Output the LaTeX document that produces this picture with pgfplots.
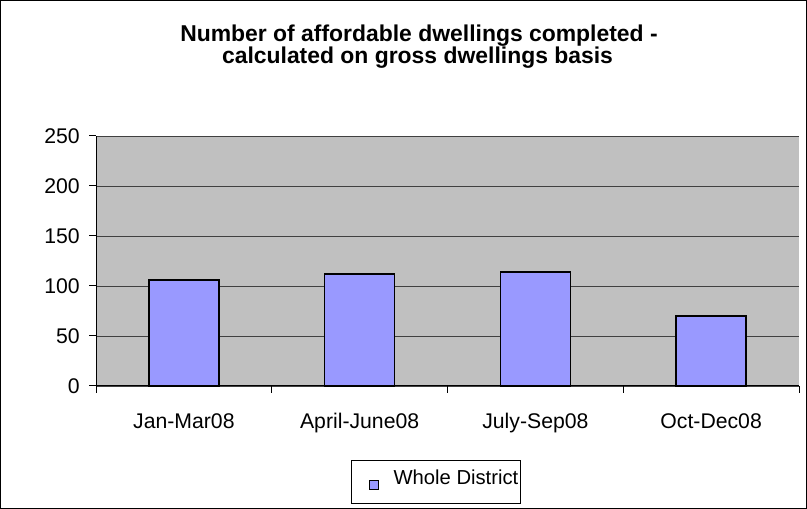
\documentclass[border=0pt]{standalone}
\usepackage{pgfplots}
\pgfplotsset{compat=1.18}
\usepackage{fontspec}
\setmainfont{Liberation Sans}
\definecolor{barblue}{HTML}{9999FF}
\definecolor{plotgray}{HTML}{C0C0C0}
\begin{document}
\begin{tikzpicture}[x=1bp,y=1bp]
\useasboundingbox (0,0) rectangle (807,509);
\draw[black, line width=1bp] (0.5,0.5) rectangle (806.5,508.5);
\node[anchor=base, inner sep=0, font=\fontsize{23}{27}\selectfont\bfseries] at (419,467) {Number of affordable dwellings completed -};
\node[anchor=base, inner sep=0, font=\fontsize{23}{27}\selectfont\bfseries] at (417.5,445) {calculated on gross dwellings basis};
\begin{axis}[
  at={(96bp,123bp)}, anchor=south west,
  scale only axis, width=703bp, height=250bp,
  xmin=-0.5, xmax=3.5, ymin=0, ymax=250,
  axis x line*=bottom, axis y line*=left,
  axis line style={black, line width=1bp},
  axis background/.style={fill=plotgray},
  xtick={0,1,2,3},
  xticklabels={Jan-Mar08,April-June08,July-Sep08,Oct-Dec08},
  minor xtick={-0.5,0.5,1.5,2.5,3.5},
  ytick={0,50,100,150,200,250},
  tick align=outside,
  major tick length=7bp, minor tick length=7bp,
  major x tick style={draw=none},
  minor x tick style={black, line width=1bp},
  major y tick style={black, line width=1bp},
  ymajorgrids,
  grid style={black!75, line width=0.9bp},
  tick label style={font=\fontsize{21.3}{25}\selectfont},
  /pgf/number format/assume math mode=true,
  xticklabel style={anchor=base, inner sep=0, yshift=-36bp},
  yticklabel style={anchor=east, inner sep=0, xshift=-9bp},
  legend style={at={(axis description cs:0.4836,-0.386)}, anchor=center,
    draw=black, line width=1bp, font=\fontsize{20.3}{24}\selectfont,
    inner xsep=2bp, inner ysep=0bp, nodes={inner xsep=0bp, inner ysep=0bp}},
  legend image code/.code={
    \path[draw=none, fill=none] (0bp,-26.5bp) rectangle (40bp,16.5bp);
    \path[fill=barblue, draw=black, line width=1bp] (16bp,-12bp) rectangle (25bp,-3bp);},
  clip=false,
]
\addplot[ybar, bar width=70bp, fill=barblue, draw=black, line width=1.3bp] coordinates {(0,106) (1,112) (2,114) (3,70)};
\addlegendentry{Whole District}
\end{axis}
\end{tikzpicture}
\end{document}
